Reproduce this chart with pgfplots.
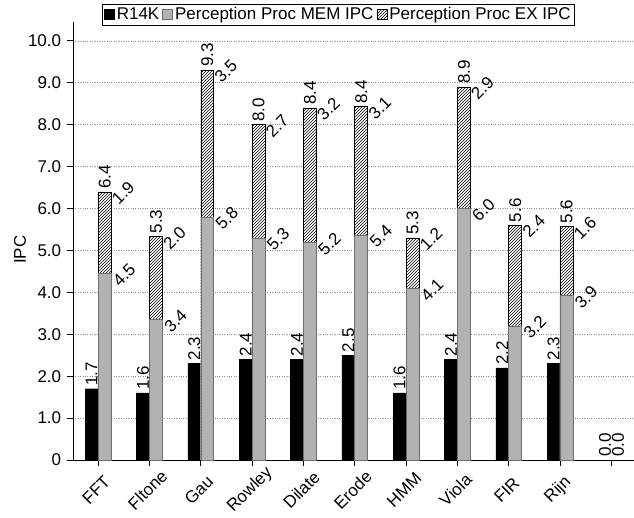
\documentclass[border=0pt]{standalone}
\usepackage{fontspec}
\setmainfont{Liberation Sans}
\usepackage{graphicx}
\usepackage{pgfplots}
\pgfplotsset{compat=1.18}
\usetikzlibrary{patterns}
\definecolor{barGray}{RGB}{178,178,178}
\definecolor{barGrayEdge}{RGB}{110,110,110}
\newcommand{\rl}[1]{\rotatebox{45}{#1}}
\newcommand{\ru}[1]{\rotatebox{90}{#1}}
\begin{document}
\fontsize{17}{20}\selectfont
\begin{tikzpicture}
\useasboundingbox (-73pt,-57pt) rectangle (561pt,460pt);
\begin{axis}[
  at={(0,0)}, anchor=south west,
  scale only axis, width=561pt, height=438pt,
  xmin=-0.49, xmax=10.44, ymin=0, ymax=10.45,
  axis lines=left, axis line style={-, black, line width=0.8pt},
  xtick={0,...,10},
  xticklabels={\rl{FFT},\rl{Fltone},\rl{Gau},\rl{Rowley},\rl{Dilate},\rl{Erode},\rl{HMM},\rl{Viola},\rl{FIR},\rl{Rijn},{}},
  xticklabel style={anchor=center, xshift=-2pt, yshift=-24pt, font=\fontsize{17}{20}\selectfont},
  ytick={0,...,10},
  yticklabels={0,1.0,2.0,3.0,4.0,5.0,6.0,7.0,8.0,9.0,10.0},
  yticklabel style={font=\fontsize{17}{20}\selectfont},
  tick align=outside, major tick length=6pt,
  tick style={black, line width=0.8pt},
  ymajorgrids, grid style={dotted, black!45, line width=0.6pt},
  ylabel={IPC},
  ylabel style={at={(axis description cs:-0.0945,0.48)}, anchor=center, font=\fontsize{17}{20}\selectfont},
  legend style={at={(0.473,1.041)}, anchor=north, legend columns=-1, draw=black, line width=0.8pt,
    inner xsep=2pt, inner ysep=1pt, font=\fontsize{17}{19}\selectfont,
    /tikz/every even column/.append style={column sep=1pt}},
  legend cell align=left,
]
\addlegendimage{legend image code/.code={\draw[fill=black,draw=black] (0pt,-5pt) rectangle (10pt,5pt);}}
\addlegendentry{R14K}
\addlegendimage{legend image code/.code={\draw[fill=barGray,draw=barGrayEdge] (0pt,-5pt) rectangle (10pt,5pt);}}
\addlegendentry{Perception Proc MEM IPC}
\addlegendimage{legend image code/.code={\draw[fill=white,draw=black,postaction={pattern=north east lines}] (0pt,-5pt) rectangle (10pt,5pt);}}
\addlegendentry{Perception Proc EX IPC}

% R14K
\addplot[ybar, bar width=12.8pt, bar shift=-6.5pt, fill=black, draw=black, forget plot,
  point meta=explicit symbolic, nodes near coords={\ru{\pgfplotspointmeta}},
  nodes near coords style={anchor=south, xshift=-6.5pt, inner sep=3pt, font=\fontsize{17}{19}\selectfont}]
coordinates {(0,1.7)[1.7] (1,1.6)[1.6] (2,2.3)[2.3] (3,2.4)[2.4] (4,2.4)[2.4] (5,2.5)[2.5]
 (6,1.6)[1.6] (7,2.4)[2.4] (8,2.2)[2.2] (9,2.3)[2.3] (10,0)[0.0]};

% total (hatched EX on top of MEM)
\addplot[ybar, bar width=12.8pt, bar shift=6.3pt, fill=white, draw=black,
  postaction={pattern=north east lines}, forget plot,
  point meta=explicit symbolic, nodes near coords={\ru{\pgfplotspointmeta}},
  nodes near coords style={anchor=south, xshift=6.5pt, inner sep=3pt, font=\fontsize{17}{19}\selectfont}]
coordinates {(0,6.4)[6.4] (1,5.33)[5.3] (2,9.3)[9.3] (3,8.0)[8.0] (4,8.4)[8.4] (5,8.43)[8.4]
 (6,5.3)[5.3] (7,8.9)[8.9] (8,5.6)[5.6] (9,5.57)[5.6] (10,0)[0.0]};

% MEM
\addplot[ybar, bar width=12.8pt, bar shift=6.3pt, fill=barGray, draw=barGrayEdge, forget plot,
  point meta=explicit symbolic, nodes near coords={\rl{\pgfplotspointmeta}},
  nodes near coords style={anchor=center, xshift=26pt, yshift=-1.5pt, inner sep=0pt, font=\fontsize{17}{19}\selectfont}]
coordinates {(0,4.45)[4.5] (1,3.36)[3.4] (2,5.8)[5.8] (3,5.3)[5.3] (4,5.2)[5.2] (5,5.37)[5.4]
 (6,4.1)[4.1] (7,6.0)[6.0] (8,3.2)[3.2] (9,3.92)[3.9]};

% EX increment labels
\addplot[ybar, bar width=12.8pt, bar shift=6.3pt, draw=none, fill=none, forget plot,
  point meta=explicit symbolic, nodes near coords={\rl{\pgfplotspointmeta}},
  nodes near coords style={anchor=center, xshift=25pt, yshift=-1pt, inner sep=0pt, font=\fontsize{17}{19}\selectfont}]
coordinates {(0,6.4)[1.9] (1,5.33)[2.0] (2,9.3)[3.5] (3,8.0)[2.7] (4,8.4)[3.2] (5,8.43)[3.1]
 (6,5.3)[1.2] (7,8.9)[2.9] (8,5.6)[2.4] (9,5.57)[1.6]};
\end{axis}
\end{tikzpicture}
\end{document}
